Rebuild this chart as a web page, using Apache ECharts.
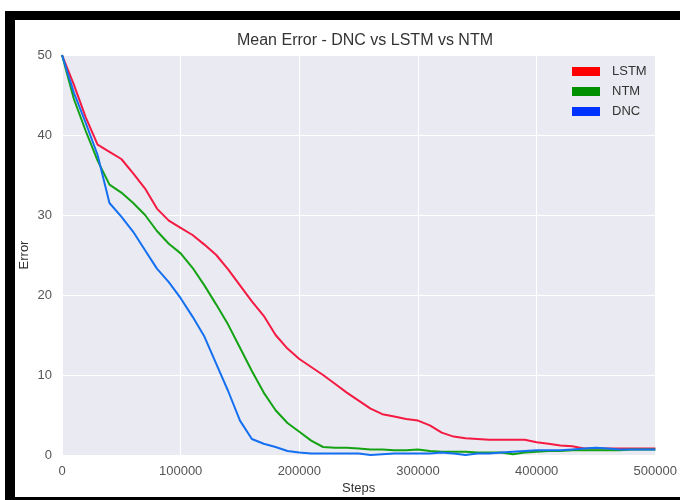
<!DOCTYPE html>
<html>
<head>
<meta charset="utf-8">
<script src="https://cdn.jsdelivr.net/npm/echarts@6/dist/echarts.min.js"></script>
<style>
  html, body { margin: 0; padding: 0; background: #fff; }
  #wrap { position: relative; width: 680px; height: 500px; overflow: hidden; }
  #frame {
    position: absolute; left: 5px; top: 11px; width: 700px; height: 477px;
    border-top: 9px solid #000; border-left: 10px solid #000; border-bottom: 9px solid #000;
  }
  #main { position: absolute; left: 0; top: 0; width: 680px; height: 500px; }
</style>
</head>
<body>
<div id="wrap">
  <div id="frame"></div>
  <div id="main"></div>
</div>
<script>
// training steps, one reading every 10000
const steps = [];
for (let s = 0; s <= 500000; s += 10000) steps.push(s);

const lstm = [50, 46.3, 42.2, 38.8, 37.9, 37.0, 35.2, 33.3, 30.8, 29.3,
  28.4, 27.5, 26.3, 25.0, 23.2, 21.2, 19.2, 17.4, 15.0, 13.3,
  12.0, 11.0, 10.0, 8.9, 7.8, 6.8, 5.8, 5.1, 4.8, 4.5,
  4.3, 3.7, 2.8, 2.3, 2.1, 2.0, 1.9, 1.9, 1.9, 1.9,
  1.6, 1.4, 1.2, 1.1, 0.8, 0.8, 0.8, 0.8, 0.8, 0.8, 0.8];

const ntm = [50, 44.5, 40.5, 36.8, 33.8, 32.8, 31.5, 30.0, 28.0, 26.4,
  25.2, 23.4, 21.2, 18.8, 16.3, 13.4, 10.5, 7.8, 5.6, 4.0,
  2.9, 1.8, 1.0, 0.9, 0.9, 0.8, 0.7, 0.7, 0.6, 0.6,
  0.7, 0.5, 0.4, 0.4, 0.4, 0.3, 0.3, 0.3, 0.1, 0.3,
  0.4, 0.5, 0.5, 0.6, 0.6, 0.6, 0.6, 0.6, 0.7, 0.7, 0.7];

const dnc = [50, 45.3, 41.5, 37.5, 31.5, 29.8, 27.9, 25.6, 23.3, 21.6,
  19.6, 17.3, 14.8, 11.4, 8.0, 4.3, 2.0, 1.4, 1.0, 0.5,
  0.3, 0.2, 0.2, 0.2, 0.2, 0.2, 0.0, 0.1, 0.2, 0.2,
  0.2, 0.2, 0.3, 0.2, 0.0, 0.2, 0.2, 0.3, 0.4, 0.5,
  0.6, 0.6, 0.6, 0.7, 0.8, 0.9, 0.8, 0.7, 0.7, 0.7, 0.7];

const xTicks = [0, 100000, 200000, 300000, 400000, 500000];
const yTicks = [0, 10, 20, 30, 40, 50];

const font = '"Liberation Sans", Arial, sans-serif';
const chart = echarts.init(document.getElementById('main'));

function line(name, values, color) {
  return {
    name: name,
    type: 'line',
    data: values.map((v, i) => [steps[i], v]),
    showSymbol: false,
    symbol: 'none',
    lineStyle: { color: color, width: 2 },
    itemStyle: { color: color },
    z: 3
  };
}

chart.setOption({
  backgroundColor: 'transparent',
  animation: false,
  textStyle: { fontFamily: font },
  title: {
    text: 'Mean Error - DNC vs LSTM vs NTM',
    left: 360,
    textAlign: 'center',
    top: 28,
    textStyle: { fontFamily: font, fontSize: 16, fontWeight: 'normal', color: '#333' }
  },
  legend: {
    orient: 'vertical',
    left: 567,
    top: 60,
    itemWidth: 28,
    itemHeight: 9,
    itemGap: 7,
    icon: 'rect',
    textStyle: { fontFamily: font, fontSize: 13, color: '#333', padding: [0, 0, 0, 7] },
    data: [
      { name: 'LSTM', itemStyle: { color: '#ff0000' } },
      { name: 'NTM', itemStyle: { color: '#009000' } },
      { name: 'DNC', itemStyle: { color: '#0033ff' } }
    ]
  },
  grid: {
    left: 62, right: 23, top: 55, bottom: 45,
    show: true, backgroundColor: '#eaeaf2', borderWidth: 0
  },
  xAxis: {
    type: 'value',
    min: xTicks[0],
    max: xTicks[xTicks.length - 1],
    interval: 100000,
    name: 'Steps',
    nameLocation: 'middle',
    nameGap: 27,
    nameMoveOverlap: false,
    nameTextStyle: { fontFamily: font, fontSize: 13, color: '#333' },
    axisLine: { show: false },
    axisTick: { show: false },
    axisLabel: { fontFamily: font, fontSize: 13, color: '#555', margin: 10, formatter: v => String(v) },
    splitLine: { show: true, lineStyle: { color: '#fff', width: 1 } }
  },
  yAxis: {
    type: 'value',
    min: yTicks[0],
    max: yTicks[yTicks.length - 1],
    interval: 10,
    name: 'Error',
    nameLocation: 'middle',
    nameGap: 31,
    nameMoveOverlap: false,
    nameTextStyle: { fontFamily: font, fontSize: 13, color: '#333' },
    axisLine: { show: false },
    axisTick: { show: false },
    axisLabel: { fontFamily: font, fontSize: 13, color: '#555', margin: 10 },
    splitLine: { show: true, lineStyle: { color: '#fff', width: 1 } }
  },
  series: [
    line('LSTM', lstm, '#f41a42'),
    line('NTM', ntm, '#14a314'),
    line('DNC', dnc, '#1470f0')
  ]
});
</script>
</body>
</html>
